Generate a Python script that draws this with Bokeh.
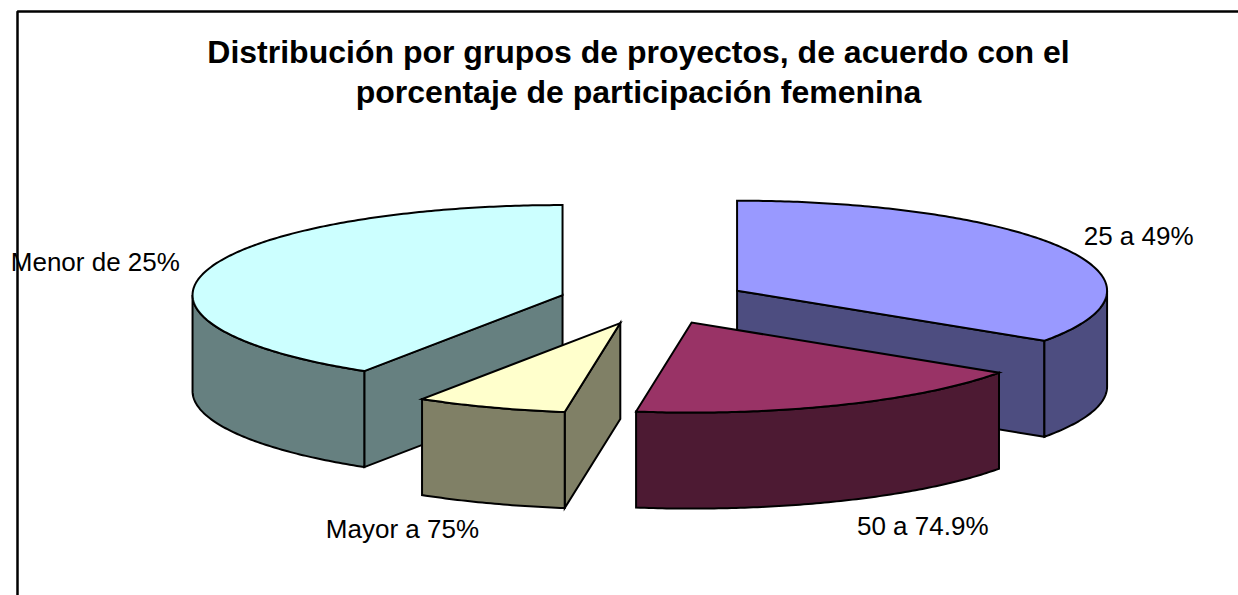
import numpy as np
from bokeh.plotting import figure
from bokeh.models import Range1d, Label
from bokeh.core.properties import value
from bokeh.embed import file_html
from bokeh.resources import INLINE

# ---- data ----
categories = ["25 a 49%", "50 a 74.9%", "Mayor a 75%", "Menor de 25%"]
shares = [34.4, 18.0, 6.6, 41.0]
top_colors = ["#9999FF", "#993366", "#FFFFCC", "#CCFFFF"]
side_colors = ["#4D4D80", "#4D1A33", "#808066", "#668080"]
title_lines = ["Distribución por grupos de proyectos, de acuerdo con el",
               "porcentaje de participación femenina"]

# ---- layout (pixel space) ----
W, H = 1238, 595
CX, CY = 653.0, 301.0      # pie centre
A, B = 370.0, 90.0         # ellipse semi-axes
DEPTH = 96.0               # extrusion
EXPLODE = 0.256
label_kx = [1.23, 1.55, 1.68, 1.315]
label_ky = 1.30

p = figure(width=W, height=H, output_backend="svg", toolbar_location=None,
           x_range=Range1d(0, W), y_range=Range1d(H, 0),
           min_border=0, outline_line_color=None)
p.axis.visible = False
p.grid.visible = False

# chart border
p.line([17, 17, W + 4], [H + 10, 11, 11], line_color="black", line_width=2.5)

def pt(c, t, dy=0.0):
    r = np.radians(t)
    return c[0] + A * np.cos(r), c[1] - B * np.sin(r) + dy

def arc(c, t1, t2, dy=0.0, n=None):
    if n is None:
        n = max(2, int(abs(t2 - t1) * 1.5))
    ts = np.linspace(t1, t2, n)
    r = np.radians(ts)
    return list(c[0] + A * np.cos(r)), list(c[1] - B * np.sin(r) + dy)

total = sum(shares)
slices = []
cum = 0.0
for i, v in enumerate(shares):
    t2 = 90.0 - cum / total * 360.0
    t1 = t2 - v / total * 360.0
    cum += v
    m = np.radians((t1 + t2) / 2)
    c = (CX + EXPLODE * A * np.cos(m), CY - EXPLODE * B * np.sin(m))
    slices.append((i, t1, t2, m, c))

# painter order: back (larger sin of mid angle) first
order = sorted(slices, key=lambda s: -np.sin(s[3]))

LW = 2
for i, t1, t2, m, c in order:
    faces = []
    if np.cos(np.radians(t1)) > 1e-6:
        x1, y1 = pt(c, t1)
        faces.append(([c[0], x1, x1, c[0]], [c[1], y1, y1 + DEPTH, c[1] + DEPTH]))
    if np.cos(np.radians(t2)) < -1e-6:
        x2, y2 = pt(c, t2)
        faces.append(([c[0], x2, x2, c[0]], [c[1], y2, y2 + DEPTH, c[1] + DEPTH]))
    for k in (-1, 0, 1):
        lo, hi = k * 360 - 180, k * 360
        a1, a2 = max(t1, lo), min(t2, hi)
        if a2 - a1 > 1e-6:
            xs, ys = arc(c, a1, a2)
            xb, yb = arc(c, a2, a1, DEPTH)
            faces.append((xs + xb, ys + yb))
    for xs, ys in faces:
        p.patch(xs, ys, fill_color=side_colors[i], line_color="black",
                line_width=LW, line_join="miter")
    xs, ys = arc(c, t1, t2)
    p.patch([c[0]] + xs, [c[1]] + ys, fill_color=top_colors[i],
            line_color="black", line_width=LW, line_join="miter")

# labels
lx, ly = [], []
for i, t1, t2, m, c in slices:
    x = c[0] + label_kx[i] * A * np.cos(m)
    y = c[1] - label_ky * B * np.sin(m)
    if np.sin(m) < 0:
        y += DEPTH
    lx.append(x)
    ly.append(y)
p.text(x=lx, y=ly, text=categories, text_align="center", text_baseline="middle",
       text_font=value("Liberation Sans"), text_font_size="26px", text_color="black")

# title
for k, line in enumerate(title_lines):
    p.add_layout(Label(x=638, y=51 + 40 * k, text=line, text_align="center",
                       text_baseline="alphabetic", text_font="Liberation Sans",
                       text_font_style="bold", text_font_size="32px",
                       text_color="black"))

open("out.html", "w").write(file_html(p, INLINE))
